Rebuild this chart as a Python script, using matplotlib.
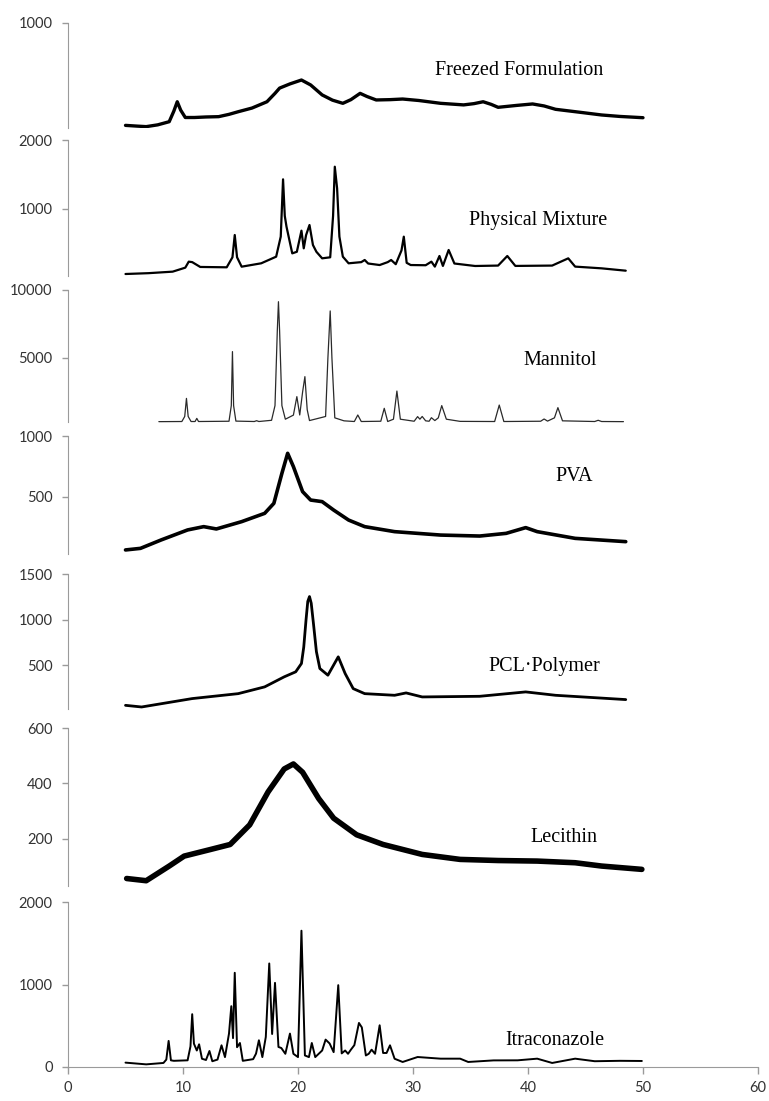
import matplotlib
matplotlib.use("Agg")
import matplotlib.pyplot as plt
from matplotlib import font_manager

# XRD patterns, 2-theta (deg) vs intensity

# Freezed Formulation
ff_x = [5.0, 6.0, 6.8, 7.8, 8.8, 9.2, 9.5, 9.8, 10.2, 11.0, 12.0, 13.1, 14.0, 14.8, 16.0,
        17.3, 18.0, 18.4, 19.3, 20.3, 21.1, 22.1, 23.0, 23.9, 24.6, 25.4, 26.0, 26.8, 28.0,
        29.1, 30.5, 32.4, 34.4, 35.3, 36.1, 36.8, 37.4, 39.0, 40.4, 41.4, 42.4, 44.5, 46.4,
        48.0, 50.0]
ff_y = [25, 18, 13, 30, 60, 160, 250, 170, 100, 100, 105, 108, 130, 155, 190,
        250, 330, 380, 420, 457, 410, 315, 265, 235, 270, 330, 300, 267, 270,
        276, 262, 235, 220, 232, 250, 225, 197, 215, 229, 210, 178, 150, 124,
        110, 98]

# Physical Mixture
pm_x = [5.0, 7.0, 9.1, 10.2, 10.5, 10.8, 11.1, 11.5, 13.8, 14.3, 14.5, 14.7, 15.1, 16.8,
        18.1, 18.5, 18.7, 18.85, 19.0, 19.5, 19.9, 20.3, 20.5, 20.7, 21.0, 21.3, 21.6, 22.1,
        22.8, 23.05, 23.2, 23.4, 23.6, 23.9, 24.4, 25.5, 25.8, 26.1, 27.1, 27.8, 28.1, 28.5,
        29.0, 29.2, 29.45, 29.8, 31.1, 31.6, 31.9, 32.3, 32.6, 33.1, 33.6, 35.4, 37.4, 38.2,
        38.9, 42.1, 43.5, 44.1, 46.4, 48.5]
pm_y = [58, 70, 92, 150, 237, 230, 200, 160, 155, 300, 623, 300, 164, 213,
        309, 600, 1430, 900, 744, 357, 380, 686, 430, 620, 768, 478, 380, 285,
        300, 900, 1613, 1300, 600, 309, 213, 230, 261, 210, 188, 230, 261, 200,
        400, 599, 220, 188, 185, 237, 165, 319, 175, 406, 210, 174, 180, 319,
        175, 180, 285, 165, 140, 106]

# Mannitol
mn_x = [7.9, 9.9, 10.15, 10.3, 10.45, 10.7, 11.05, 11.2, 11.35, 14.0, 14.2, 14.3, 14.4,
        14.6, 16.2, 16.4, 16.6, 17.7, 18.0, 18.2, 18.3, 18.4, 18.6, 18.9, 19.6, 19.9, 20.15,
        20.4, 20.6, 20.8, 21.0, 22.4, 22.6, 22.8, 22.95, 23.2, 24.0, 24.9, 25.2, 25.5, 27.2,
        27.5, 27.8, 28.3, 28.6, 28.9, 30.1, 30.4, 30.6, 30.8, 31.1, 31.4, 31.6, 31.9, 32.2,
        32.5, 32.9, 34.1, 37.1, 37.5, 37.9, 41.1, 41.4, 41.7, 42.3, 42.6, 43.0, 45.8, 46.1,
        46.4, 48.3]
mn_y = [320, 330, 700, 2030, 700, 330, 330, 560, 330, 350, 1500, 5470, 1500,
        360, 330, 390, 330, 420, 1500, 7000, 9140, 7000, 1500, 500, 800, 2160, 810,
        2500, 3630, 1200, 400, 700, 5000, 8460, 5000, 600, 380, 330, 810, 330, 350,
        1300, 330, 500, 2570, 500, 350, 690, 500, 700, 380, 350, 610, 400, 600,
        1500, 500, 340, 330, 1540, 330, 350, 515, 360, 600, 1350, 380, 330, 420,
        330, 320]

# PVA
pva_x = [5.0, 6.3, 8.1, 10.4, 11.8, 12.9, 15.1, 17.1, 17.9, 18.6, 19.1, 19.6, 20.4, 21.1,
         22.1, 23.1, 24.4, 25.8, 28.4, 32.4, 35.8, 38.1, 39.8, 40.8, 44.1, 48.5]
pva_y = [66, 79, 148, 230, 257, 238, 298, 366, 448, 694, 858, 749, 544, 475,
         462, 393, 311, 257, 216, 188, 180, 202, 249, 216, 161, 134]

# PCL-Polymer
pcl_x = [5.0, 6.4, 10.8, 14.8, 17.1, 18.8, 19.8, 20.3, 20.5, 20.7, 20.85, 21.0, 21.15,
         21.35, 21.6, 21.9, 22.6, 23.5, 24.1, 24.8, 25.8, 28.4, 29.4, 30.8, 35.8, 39.8,
         42.4, 48.5]
pcl_y = [62, 44, 136, 190, 264, 374, 429, 520, 700, 1000, 1200, 1253, 1180,
         950, 650, 465, 392, 593, 410, 245, 190, 172, 198, 154, 161, 209,
         172, 125]

# Lecithin
lec_x = [5.1, 6.8, 8.8, 10.1, 12.4, 14.1, 15.8, 17.4, 18.8, 19.6, 20.4, 21.8, 23.1, 25.1,
         27.4, 30.8, 34.1, 37.4, 40.8, 44.1, 46.4, 49.9]
lec_y = [56, 48, 101, 137, 161, 179, 250, 369, 452, 470, 440, 345, 274, 214,
         179, 143, 125, 121, 119, 113, 101, 89]

# Itraconazole
it_x = [5.0, 6.8, 8.3, 8.55, 8.75, 8.95, 9.2, 10.4, 10.65, 10.8, 10.95, 11.2, 11.4, 11.65,
        12.0, 12.3, 12.55, 13.0, 13.35, 13.65, 14.0, 14.2, 14.35, 14.5, 14.7, 14.95, 15.2,
        16.1, 16.35, 16.6, 16.9, 17.2, 17.5, 17.75, 18.0, 18.3, 18.55, 18.9, 19.3, 19.6,
        20.0, 20.3, 20.6, 20.95, 21.2, 21.5, 22.1, 22.4, 22.75, 23.1, 23.5, 23.8, 24.1,
        24.35, 24.6, 24.9, 25.3, 25.55, 25.9, 26.15, 26.4, 26.7, 27.1, 27.4, 27.7, 28.0,
        28.4, 29.1, 30.4, 32.4, 34.1, 34.8, 37.0, 39.1, 40.8, 42.1, 44.1, 45.8, 48.0, 49.9]
it_y = [53, 32, 49, 90, 316, 81, 75, 81, 250, 640, 283, 200, 275, 100,
        85, 194, 70, 90, 263, 120, 405, 737, 350, 1142, 240, 291, 75,
        95, 162, 324, 120, 364, 1255, 400, 1020, 243, 230, 160, 405, 160,
        120, 1652, 140, 120, 291, 120, 200, 332, 285, 180, 992, 165, 200,
        160, 210, 265, 534, 480, 140, 160, 210, 160, 506, 170, 170, 263,
        100, 61, 121, 101, 101, 61, 80, 81, 101, 49, 101, 70, 75, 73]

labels = ["Freezed Formulation", "Physical Mixture", "Mannitol", "PVA",
          "PCL\u00b7Polymer", "Lecithin", "Itraconazole"]
ytops = [1000, 2000, 10000, 1000, 1500, 600, 2000]
yticks = [[1000], [1000, 2000], [5000, 10000], [500, 1000],
          [500, 1000, 1500], [200, 400, 600], [0, 1000, 2000]]
xticks = [0, 10, 20, 30, 40, 50, 60]

series = [(ff_x, ff_y), (pm_x, pm_y), (mn_x, mn_y), (pva_x, pva_y),
          (pcl_x, pcl_y), (lec_x, lec_y), (it_x, it_y)]

# layout (pixel rows of top/bottom of each y axis), label anchors, line styles
W, H = 769, 1101
rows = [(23, 128), (140, 278), (290, 426), (436, 558), (574, 711), (728, 894), (902, 1067)]
spine_low = [0, 30, 300, 30, 20, 30, 0]
label_pos = [(39.2, 552), (40.9, 840), (42.8, 4850), (44.0, 664),
             (41.4, 482), (43.1, 206), (42.3, 327)]
widths = [2.4, 1.6, 0.9, 2.6, 2.0, 4.0, 1.4]
colors = ["black", "black", "#2a2a2a", "black", "black", "black", "black"]

names = {f.name for f in font_manager.fontManager.ttflist}
if "Liberation Sans Narrow" in names:
    tick_font, tick_size = "Liberation Sans Narrow", 12
else:
    tick_font, tick_size = "Lato", 10.5

axis_gray = "#9a9a9a"
left, right = 68 / W, 758 / W

fig = plt.figure(figsize=(W / 100, H / 100), dpi=100)

for i, (xs, ys) in enumerate(series):
    top, bot = rows[i]
    ax = fig.add_axes([left, 1 - bot / H, right - left, (bot - top) / H])
    ax.plot(xs, ys, color=colors[i], lw=widths[i], solid_joinstyle="round",
            solid_capstyle="round")
    ax.set_xlim(0, 60)
    ax.set_ylim(0, ytops[i])
    ax.patch.set_alpha(0)
    for s in ["top", "right"]:
        ax.spines[s].set_visible(False)
    ax.spines["left"].set_color(axis_gray)
    ax.spines["left"].set_bounds(spine_low[i], ytops[i])
    ax.set_yticks(yticks[i])
    ax.tick_params(axis="y", direction="out", length=4, width=1, color=axis_gray,
                   pad=7, labelsize=tick_size, labelcolor="#333333")
    for t in ax.get_yticklabels():
        t.set_fontfamily(tick_font)
    if i < len(series) - 1:
        ax.spines["bottom"].set_visible(False)
        ax.set_xticks([])
    else:
        ax.spines["bottom"].set_color(axis_gray)
        ax.set_xticks(xticks)
        ax.tick_params(axis="x", direction="out", length=5, width=1, color=axis_gray,
                       pad=5, labelsize=tick_size, labelcolor="#333333")
        for t in ax.get_xticklabels():
            t.set_fontfamily(tick_font)
    lx, ly = label_pos[i]
    ax.text(lx, ly, labels[i], ha="center", va="center", fontsize=14.5,
            family="Liberation Serif", color="black")

fig.savefig("out.png", dpi=100)
